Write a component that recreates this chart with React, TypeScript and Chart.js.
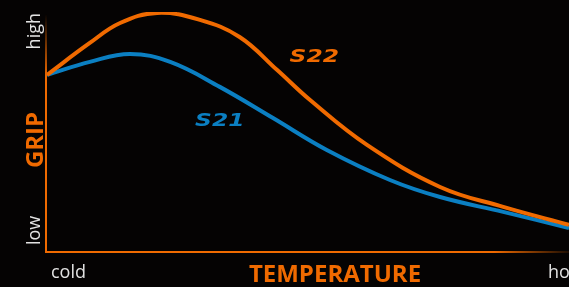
import React, { useEffect, useRef } from "react";
import { Chart, registerables } from "chart.js";

Chart.register(...registerables);

// Temperature axis runs 0 (cold) .. 100 (hot); grip axis 0 (low) .. 100 (high)
const s22Temp = [0, 8.2, 14.0, 21.1, 29.3, 36.9, 44.1, 50.4, 61.3, 75.3, 87.4, 100];
const s22Grip = [73.8, 87.1, 95.4, 99.6, 96.7, 89.6, 75.8, 63.3, 44.6, 27.1, 18.8, 11.3];
const s21Temp = [0, 8.2, 15.9, 23.6, 33.1, 43.3, 53.6, 65.7, 75.3, 87.4, 100];
const s21Grip = [73.8, 79.2, 82.5, 79.2, 68.8, 55.8, 42.5, 30.0, 22.9, 16.7, 10.0];

const seriesNames = ["S22", "S21"];
const xTickLabels = ["cold", "hot"];
const yTickLabels = ["low", "high"];
const xTitle = "TEMPERATURE";
const yTitle = "GRIP";

const ORANGE = "#f06a00";
const BLUE = "#0b7fc2";
const BG = "#050303";
const LABEL = "#e2e2e2";

const decorPlugin = {
  id: "decor",
  beforeDatasetsDraw(chart: any) {
    const { ctx, chartArea } = chart;
    const { left, right, top, bottom } = chartArea;
    ctx.save();
    ctx.lineWidth = 2;
    const gy = ctx.createLinearGradient(0, top + 2, 0, top + 65);
    gy.addColorStop(0, "rgba(240,106,0,0)");
    gy.addColorStop(1, ORANGE);
    ctx.strokeStyle = gy;
    ctx.beginPath();
    ctx.moveTo(left - 1, bottom + 1);
    ctx.lineTo(left - 1, top + 2);
    ctx.stroke();
    const gx = ctx.createLinearGradient(right - 75, 0, right, 0);
    gx.addColorStop(0, ORANGE);
    gx.addColorStop(1, "rgba(240,106,0,0.1)");
    ctx.strokeStyle = gx;
    ctx.beginPath();
    ctx.moveTo(left - 2, bottom);
    ctx.lineTo(right, bottom);
    ctx.stroke();
    ctx.restore();
  },
  afterDraw(chart: any) {
    const { ctx, chartArea, scales } = chart;
    const { left, top, bottom } = chartArea;
    const xs = scales.x;
    const ys = scales.y;
    ctx.save();
    ctx.fillStyle = LABEL;
    ctx.font = '18px "Open Sans"';
    ctx.textAlign = "left";
    ctx.textBaseline = "alphabetic";
    ctx.fillText(xTickLabels[0], xs.getPixelForValue(0) + 4, bottom + 26);
    ctx.fillText(xTickLabels[1], xs.getPixelForValue(100) - 21, bottom + 26);
    ctx.fillStyle = ORANGE;
    ctx.font = 'bold 24px "Open Sans"';
    ctx.textAlign = "center";
    ctx.fillText(xTitle, 335, bottom + 30);
    ctx.fillStyle = LABEL;
    ctx.font = '18px "Open Sans"';
    ctx.save();
    ctx.translate(left - 7, bottom - 7);
    ctx.rotate(-Math.PI / 2);
    ctx.textAlign = "left";
    ctx.fillText(yTickLabels[0], 0, 0);
    ctx.restore();
    ctx.save();
    ctx.translate(left - 7, top + 1);
    ctx.rotate(-Math.PI / 2);
    ctx.textAlign = "right";
    ctx.fillText(yTickLabels[1], 0, 0);
    ctx.restore();
    ctx.save();
    ctx.fillStyle = ORANGE;
    ctx.font = 'bold 24px "Open Sans"';
    ctx.translate(left - 4, (top + bottom) / 2 + 8);
    ctx.rotate(-Math.PI / 2);
    ctx.textAlign = "center";
    ctx.fillText(yTitle, 0, 0);
    ctx.restore();
    const drawSeries = (txt: string, color: string, t: number, g: number) => {
      ctx.save();
      ctx.fillStyle = color;
      ctx.font = 'italic bold 18px "DejaVu Sans"';
      ctx.textAlign = "center";
      ctx.textBaseline = "middle";
      ctx.translate(xs.getPixelForValue(t), ys.getPixelForValue(g));
      ctx.scale(1.3, 1);
      ctx.fillText(txt, 0, 0);
      ctx.restore();
    };
    drawSeries(seriesNames[0], ORANGE, 51.2, 81.3);
    drawSeries(seriesNames[1], BLUE, 33.1, 54.6);
    ctx.restore();
  },
};

export default function App() {
  const ref = useRef<HTMLCanvasElement | null>(null);
  useEffect(() => {
    if (!ref.current) return;
    const chart = new Chart(ref.current, {
      type: "line",
      data: {
        datasets: [
          {
            label: seriesNames[0],
            data: s22Temp.map((t, i) => ({ x: t, y: s22Grip[i] })),
            borderColor: ORANGE,
            borderWidth: 4,
            pointRadius: 0,
            tension: 0.4,
            fill: false,
          },
          {
            label: seriesNames[1],
            data: s21Temp.map((t, i) => ({ x: t, y: s21Grip[i] })),
            borderColor: BLUE,
            borderWidth: 4,
            pointRadius: 0,
            tension: 0.4,
            fill: false,
          },
        ],
      },
      options: {
        animation: false,
        responsive: false,
        devicePixelRatio: 1,
        layout: { padding: { left: 47, right: 0, top: 12, bottom: 35 } },
        plugins: { legend: { display: false }, tooltip: { enabled: false } },
        scales: {
          x: { type: "linear", min: 0, max: 100, display: false },
          y: { type: "linear", min: 0, max: 100, display: false },
        },
      },
      plugins: [decorPlugin],
    } as any);
    return () => chart.destroy();
  }, []);
  return (
    <div style={{ position: "fixed", left: 0, top: 0, width: 569, height: 287, background: BG }}>
      <canvas ref={ref} width={569} height={287} style={{ display: "block" }} />
    </div>
  );
}
